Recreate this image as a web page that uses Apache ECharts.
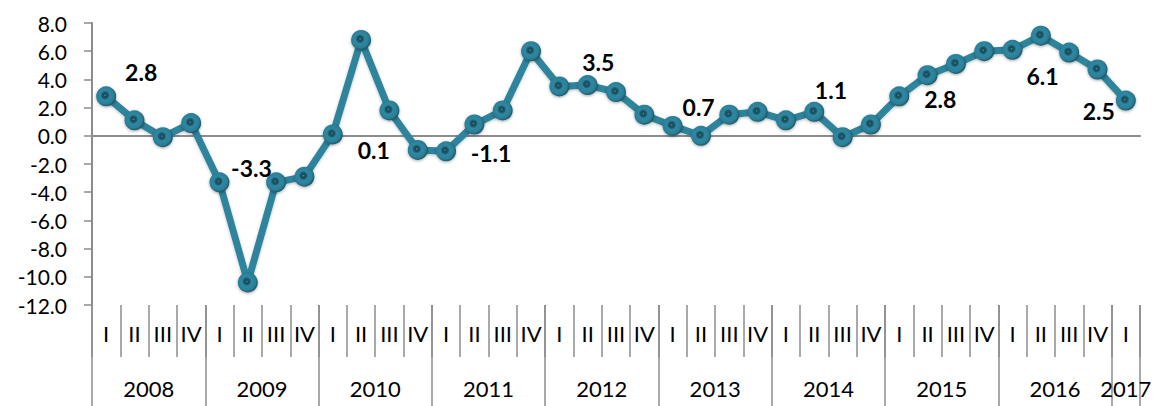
<!DOCTYPE html>
<html>
<head>
<meta charset="utf-8">
<script src="https://cdn.jsdelivr.net/npm/echarts@6/dist/echarts.min.js"></script>
<style>
  html, body { margin: 0; padding: 0; background: #fff; }
  #chart { width: 1156px; height: 406px; }
</style>
</head>
<body>
<div id="chart"></div>
<script>
// quarterly values, 2008 I .. 2017 I
let values = [
  2.8, 1.1, -0.1, 0.9,
  -3.3, -10.4, -3.3, -2.9,
  0.1, 6.8, 1.8, -1.0,
  -1.1, 0.8, 1.8, 6.0,
  3.5, 3.6, 3.1, 1.5,
  0.7, 0.0, 1.5, 1.7,
  1.1, 1.7, -0.1, 0.8,
  2.8, 4.3, 5.1, 6.0,
  6.1, 7.1, 5.9, 4.7,
  2.5
];
let years = ['2008', '2009', '2010', '2011', '2012', '2013', '2014', '2015', '2016', '2017'];
let quartersInYear = [4, 4, 4, 4, 4, 4, 4, 4, 4, 1];
let quarterNames = ['I', 'II', 'III', 'IV'];
let yTicks = { min: -12, max: 8, step: 2 };
// points whose value is written on the chart (first quarter of each year)
let labelled = [0, 4, 8, 12, 16, 20, 24, 28, 32, 36];

// label placement relative to its point
let labelOffsets = {
  0: [35, -24], 4: [32, -14], 8: [41, 16], 12: [45, 2], 16: [39, -24],
  20: [26, -19], 24: [45, -30], 28: [41, 3], 32: [30, 26], 36: [-27, 10]
};

let quarterLabels = [];
quartersInYear.forEach((n) => {
  for (let q = 0; q < n; q++) quarterLabels.push(quarterNames[q]);
});

// year axis: half-quarter slots, boundaryGap false, so slot 2*i+1 is the centre of quarter i
let yearSlots = [];
let yearTickSlots = {};
for (let s = 0; s <= quarterLabels.length * 2; s++) yearSlots.push('');
let startQ = 0;
quartersInYear.forEach((n, k) => {
  yearTickSlots[startQ * 2] = true;
  yearSlots[startQ * 2 + n] = years[k];
  startQ += n;
});
yearTickSlots[startQ * 2] = true;

let axisGray = '#8c8c8c';
let font = 'Lato, "Open Sans", sans-serif';

let seriesData = values.map((v, i) => {
  let item = { value: v };
  if (labelled.indexOf(i) >= 0) {
    item.label = {
      show: true,
      position: 'inside',
      offset: labelOffsets[i],
      formatter: (p) => p.value.toFixed(1),
      color: '#000',
      fontFamily: font,
      fontWeight: 'bold',
      fontSize: 23
    };
  }
  return item;
});

let chart = echarts.init(document.getElementById('chart'), null, { renderer: 'svg' });

let option = {
  animation: false,
  grid: { left: 92, right: 16, top: 23, bottom: 101, containLabel: false },
  xAxis: [
    {
      type: 'category',
      data: quarterLabels,
      boundaryGap: true,
      axisLine: { onZero: true, lineStyle: { color: axisGray, width: 2 } },
      axisTick: { inside: true, length: 8, interval: 0, lineStyle: { color: axisGray, width: 1.5 } },
      axisLabel: { show: false }
    },
    {
      type: 'category',
      data: quarterLabels,
      boundaryGap: true,
      position: 'bottom',
      axisLine: { show: false, onZero: false },
      axisTick: { show: true, length: 52, interval: 0, lineStyle: { color: axisGray, width: 1.5 } },
      axisLabel: { interval: 0, margin: 17, color: '#000', fontFamily: font, fontSize: 22 }
    },
    {
      type: 'category',
      data: yearSlots,
      boundaryGap: false,
      position: 'bottom',
      axisLine: { show: false, onZero: false },
      axisTick: {
        show: true, length: 101,
        interval: (i) => !!yearTickSlots[i],
        lineStyle: { color: axisGray, width: 1.5 }
      },
      axisLabel: { interval: 0, margin: 72, color: '#000', fontFamily: font, fontSize: 22 }
    }
  ],
  yAxis: {
    type: 'value',
    min: yTicks.min,
    max: yTicks.max,
    interval: yTicks.step,
    axisLine: { show: true, lineStyle: { color: axisGray, width: 2 } },
    axisTick: { show: true, length: 8, lineStyle: { color: axisGray, width: 1.5 } },
    splitLine: { show: false },
    axisLabel: {
      margin: 25,
      color: '#000',
      fontFamily: font,
      fontSize: 21,
      formatter: (v) => v.toFixed(1)
    }
  },
  series: [
    {
      type: 'line',
      xAxisIndex: 0,
      data: seriesData,
      symbol: 'circle',
      symbolSize: 20,
      showSymbol: true,
      showAllSymbol: true,
      lineStyle: { color: '#2f849c', width: 7, shadowColor: 'rgba(0,0,0,0.25)', shadowBlur: 3, shadowOffsetY: 1 },
      itemStyle: {
        color: {
          type: 'radial', x: 0.45, y: 0.45, r: 0.55,
          colorStops: [
            { offset: 0, color: '#4b9fb6' },
            { offset: 0.12, color: '#1a4655' },
            { offset: 0.3, color: '#1f5d70' },
            { offset: 0.42, color: '#2f88a2' },
            { offset: 0.8, color: '#2b7f98' },
            { offset: 1, color: '#1c5667' }
          ]
        },
        borderWidth: 0,
        shadowColor: 'rgba(0,0,0,0.35)',
        shadowBlur: 3,
        shadowOffsetY: 1
      },
      z: 5
    }
  ]
};

chart.setOption(option);
</script>
</body>
</html>
